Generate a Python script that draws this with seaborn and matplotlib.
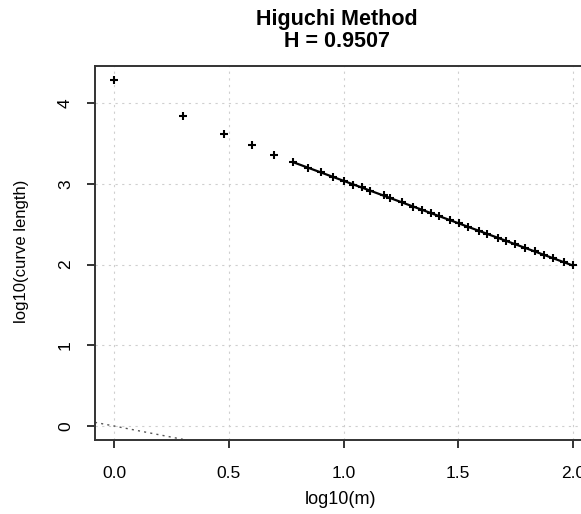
import numpy as np
import pandas as pd
import matplotlib
matplotlib.use("Agg")
import matplotlib.pyplot as plt
import seaborn as sns

# Higuchi curve-length estimates: block size m and log10 of mean curve length
m_values = [1, 2, 3, 4, 5, 6, 7, 8, 9, 10, 11, 12, 13, 15, 16, 18, 20, 22,
            24, 26, 29, 32, 35, 39, 42, 47, 51, 56, 62, 68, 75, 82, 91, 100]
log_length = [4.28, 3.84, 3.62, 3.48, 3.36, 3.272, 3.196, 3.141, 3.082, 3.039,
              2.990, 2.956, 2.914, 2.855, 2.820, 2.771, 2.718, 2.679, 2.635,
              2.603, 2.549, 2.509, 2.463, 2.418, 2.380, 2.334, 2.291, 2.254,
              2.202, 2.165, 2.116, 2.080, 2.027, 1.989]
fit_min_m = 6            # lower cutoff for the regression
hurst = 0.9507
ref_slope = -0.55        # dotted reference line through the origin

x_ticks = [0.0, 0.5, 1.0, 1.5, 2.0]
x_tick_labels = ["0.0", "0.5", "1.0", "1.5", "2.0"]
y_ticks = [0, 1, 2, 3, 4]

df = pd.DataFrame({"m": m_values, "logL": log_length})
df["logm"] = np.log10(df["m"])
fit = df[df["m"] >= fit_min_m]

sns.set_theme(style="white")
plt.rcParams["font.family"] = ["Liberation Sans", "DejaVu Sans"]
plt.rcParams["text.color"] = "black"
plt.rcParams["axes.labelcolor"] = "black"

W, H = 581, 514
fig = plt.figure(figsize=(W / 100, H / 100), dpi=100)
# plot region runs slightly past the right edge of the figure
ax = fig.add_axes([95 / W, 74 / H, 497 / W, 374 / H])

ax.set_xlim(-0.083, 2.083)
ax.set_ylim(-0.173, 4.458)
ax.set_xticks(x_ticks)
ax.set_xticklabels(x_tick_labels)
ax.set_yticks(y_ticks)

ax.grid(True, color="#cfcfcf", linestyle=(0, (2, 4)), linewidth=0.8)
ax.set_axisbelow(True)

ax.axline((0, 0), slope=ref_slope, color="#555555",
          linestyle=(0, (1.5, 3)), linewidth=1.0, zorder=1)

sns.scatterplot(data=df, x="logm", y="logL", marker="+", s=30,
                color="black", linewidth=1.5, ax=ax, zorder=3)
sns.regplot(data=fit, x="logm", y="logL", scatter=False, ci=None,
            truncate=True, color="black", line_kws={"linewidth": 1.6},
            ax=ax)

for side in ["left", "bottom", "top", "right"]:
    ax.spines[side].set_visible(True)
    ax.spines[side].set_color("#333333")
    ax.spines[side].set_linewidth(1.4)

ax.tick_params(axis="both", direction="out", length=5.8, width=1.4,
               color="#333333", labelsize=12.5, labelcolor="black",
               bottom=True, left=True)
ax.tick_params(axis="x", pad=13)
ax.tick_params(axis="y", pad=10, labelrotation=90)
for lab in ax.get_yticklabels():
    lab.set_va("center")

ax.set_xlabel("log10(m)", fontsize=13, color="black")
ax.set_ylabel("log10(curve length)", fontsize=12, color="black")
ax.xaxis.set_label_coords((340 - 95) / 497, (440 - 500) / 374)
ax.xaxis.label.set_va("center")
ax.yaxis.set_label_coords((22 - 95) / 497, (440 - 251) / 374)
ax.yaxis.label.set_va("center")
ax.yaxis.label.set_ha("center")

fig.text(337 / W, 1 - 25 / H, "Higuchi Method", ha="center", va="baseline",
         fontsize=15.5, fontweight="bold", color="black")
fig.text(337 / W, 1 - 47 / H, f"H = {hurst:.4f}", ha="center",
         va="baseline", fontsize=15.5, fontweight="bold", color="black")

fig.savefig("out.png", dpi=100)
